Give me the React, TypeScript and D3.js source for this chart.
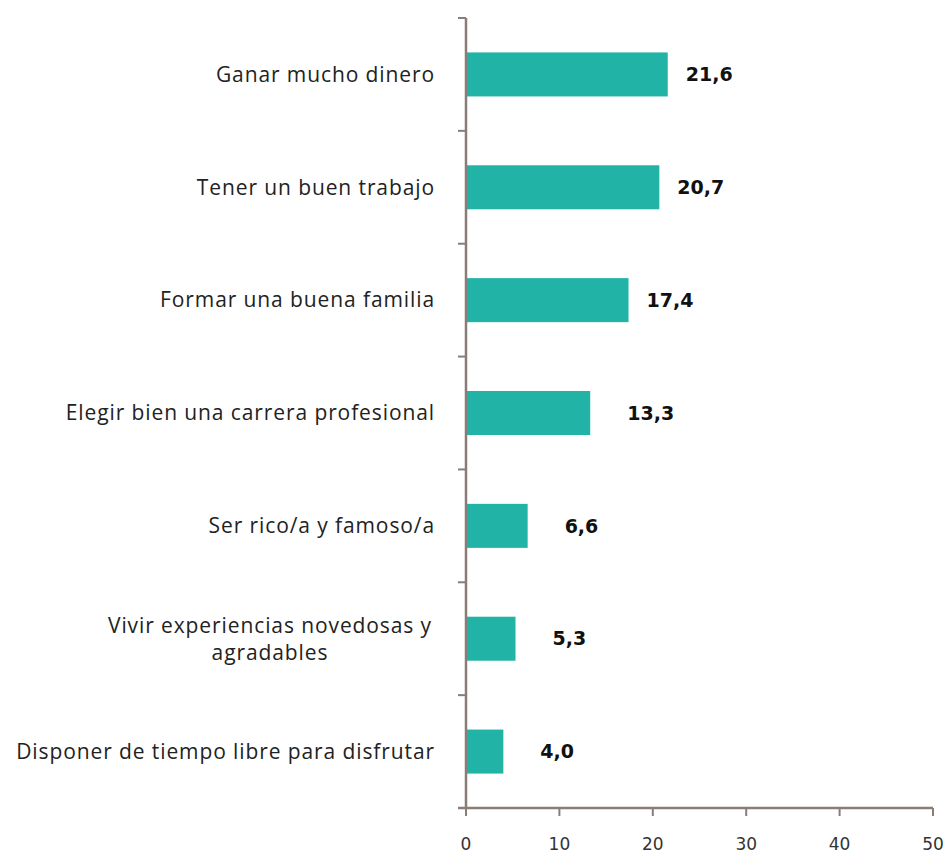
import React from 'react';
import * as d3 from 'd3';

const CATEGORIES = [
  'Ganar mucho dinero',
  'Tener un buen trabajo',
  'Formar una buena familia',
  'Elegir bien una carrera profesional',
  'Ser rico/a y famoso/a',
  'Vivir experiencias novedosas y|agradables',
  'Disponer de tiempo libre para disfrutar',
];
const VALUES = [21.6, 20.7, 17.4, 13.3, 6.6, 5.3, 4.0];
const X_TICKS = [0, 10, 20, 30, 40, 50];

const W = 947;
const H = 857;
const margin = { top: 18, right: 14, bottom: 49, left: 466 };

const AXIS_COLOR = '#8a7d78';
const BAR_COLOR = '#22b3a7';

export default function App() {
  const x = d3
    .scaleLinear()
    .domain([0, 50])
    .range([margin.left, W - margin.right]);

  const y = d3
    .scaleBand()
    .domain(CATEGORIES)
    .range([margin.top, H - margin.bottom])
    .paddingInner(0.61)
    .paddingOuter(0.305);

  const step = y.step();
  const bounds = d3.range(CATEGORIES.length + 1).map((i) => margin.top + i * step);
  const fmt = (v: number) => v.toFixed(1).replace('.', ',');
  const y0 = H - margin.bottom;

  return (
    <svg
      width={W}
      height={H}
      style={{ position: 'absolute', left: 0, top: 0, background: '#fff' }}
    >
      {/* bars */}
      {CATEGORIES.map((c, i) => (
        <rect
          key={c}
          x={x(0) + 1}
          y={y(c)}
          width={x(VALUES[i]) - x(0) - 1}
          height={y.bandwidth()}
          fill={BAR_COLOR}
        />
      ))}

      {/* value labels */}
      {CATEGORIES.map((c, i) => (
        <text
          key={c}
          x={x(VALUES[i]) + (VALUES[i] > 15 ? 18 : 37)}
          y={(y(c) as number) + y.bandwidth() / 2}
          dy="0.35em"
          fontFamily="DejaVu Sans"
          fontWeight="bold"
          fontSize={19}
          fill="#111"
        >
          {fmt(VALUES[i])}
        </text>
      ))}

      {/* category labels */}
      {CATEGORIES.map((c) => {
        const lines = c.split('|');
        const cy = (y(c) as number) + y.bandwidth() / 2;
        const multi = lines.length > 1;
        const lx = multi ? 270 : 435;
        return (
          <text
            key={c}
            x={lx}
            y={cy - ((lines.length - 1) * 27) / 2}
            textAnchor={multi ? 'middle' : 'end'}
            fontFamily="Open Sans"
            fontSize={21}
            letterSpacing={0.9}
            fill="#222"
          >
            {lines.map((l, j) => (
              <tspan key={j} x={lx} dy={j === 0 ? '0.35em' : 27}>
                {l}
              </tspan>
            ))}
          </text>
        );
      })}

      {/* y axis */}
      <line x1={x(0)} x2={x(0)} y1={margin.top} y2={y0} stroke={AXIS_COLOR} strokeWidth={2.5} />
      {bounds.map((b, i) => (
        <line key={i} x1={x(0) - 8} x2={x(0)} y1={b} y2={b} stroke={AXIS_COLOR} strokeWidth={2} />
      ))}

      {/* x axis */}
      <line x1={x(0) - 8} x2={x(50)} y1={y0} y2={y0} stroke={AXIS_COLOR} strokeWidth={2.5} />
      {X_TICKS.map((t) => (
        <g key={t}>
          <line x1={x(t)} x2={x(t)} y1={y0} y2={y0 + 8} stroke={AXIS_COLOR} strokeWidth={2} />
          <text
            x={x(t)}
            y={850}
            textAnchor="middle"
            fontFamily="DejaVu Sans"
            fontSize={17}
            fill="#333"
          >
            {t}
          </text>
        </g>
      ))}
    </svg>
  );
}
